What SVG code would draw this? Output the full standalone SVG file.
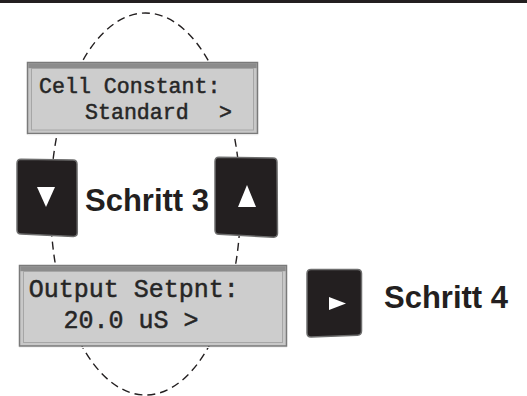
<svg xmlns="http://www.w3.org/2000/svg" width="527" height="396" viewBox="0 0 527 396">
  <style>
    .lcd-outer { fill: #c8c8c8; stroke: #7a7a7a; stroke-width: 1.5; }
    .lcd-band { fill: #8c8c8c; }
    .lcd-inner { fill: #cdcdcd; stroke: #a6a6a6; stroke-width: 1; }
    .lcd-hl { stroke: #f4f4f4; stroke-width: 1; fill: none; }
    .lcd-text { font-family: "Courier New", "Liberation Mono", monospace; fill: #262626; stroke: #262626; stroke-width: 0.5; }
    .btn { fill: #231f20; stroke: #6e6e6e; stroke-width: 1.5; }
    .tri { fill: #ffffff; }
    .label { font-family: "Liberation Sans", Arial, Helvetica, sans-serif; font-weight: bold; font-size: 31px; fill: #231f20; }
    .dash { fill: none; stroke: #231f20; stroke-width: 1.4; stroke-dasharray: 8 5; }
  </style>

  <rect id="top-bar" x="0" y="0" width="527" height="3" fill="#231f20"/>

  <g id="connectors">
    <ellipse class="dash" cx="145.5" cy="204" rx="95" ry="191"/>
  </g>

  <g id="lcd-cell-constant">
    <rect class="lcd-outer" x="27.5" y="62.5" width="230" height="71"/>
    <rect class="lcd-band" x="28.3" y="63.2" width="228.4" height="5"/>
    <rect class="lcd-inner" x="31.5" y="68.5" width="222" height="61.5"/>
    <line class="lcd-hl" x1="28" y1="135" x2="258" y2="135"/>
    <text class="lcd-text" x="39" y="93" font-size="21.6">Cell Constant:</text>
    <text class="lcd-text" x="85" y="119" font-size="21.6">Standard</text>
    <text class="lcd-text" x="219" y="119" font-size="21.6">&gt;</text>
  </g>

  <g id="btn-down">
    <path class="btn" d="M21,159.3 L73,160 Q77,160 77,164 L77.3,232.5 Q77.3,236.5 73.3,236.4 L21,234 Q17,234 17,230 L17,163.3 Q17,159.3 21,159.3 Z"/>
    <polygon class="tri" points="37,187 55,187 46,207"/>
  </g>

  <g id="label-schritt3">
    <text class="label" x="85" y="211">Schritt 3</text>
  </g>

  <g id="btn-up">
    <path class="btn" d="M219,157.3 L273,158 Q277,158 277,162 L277.5,233.3 Q277.5,237.3 273.5,237.2 L219,234.3 Q215,234.3 215,230.3 L215,161.3 Q215,157.3 219,157.3 Z"/>
    <polygon class="tri" points="238,207 256,207 247,185"/>
  </g>

  <g id="lcd-output-setpnt">
    <rect class="lcd-outer" x="19.5" y="265.5" width="267" height="80.5"/>
    <rect class="lcd-band" x="20.3" y="266.2" width="265.4" height="5"/>
    <rect class="lcd-inner" x="23.5" y="271.5" width="259" height="71"/>
    <line class="lcd-hl" x1="19" y1="347.5" x2="287" y2="347.5"/>
    <text class="lcd-text" x="28.8" y="297" font-size="25">Output Setpnt:</text>
    <text class="lcd-text" x="63.5" y="328" font-size="25">20.0 uS &gt;</text>
  </g>

  <g id="btn-right">
    <path class="btn" d="M311,269.5 L357.5,269.5 Q361.5,269.5 361.5,273.5 L361.5,331 Q361.5,335 357.5,335.2 L311,337 Q307,337 307,333 L307,273.5 Q307,269.5 311,269.5 Z"/>
    <polygon class="tri" points="329,297 329,310 346,303.5"/>
  </g>

  <g id="label-schritt4">
    <text class="label" x="384" y="308">Schritt 4</text>
  </g>
</svg>
